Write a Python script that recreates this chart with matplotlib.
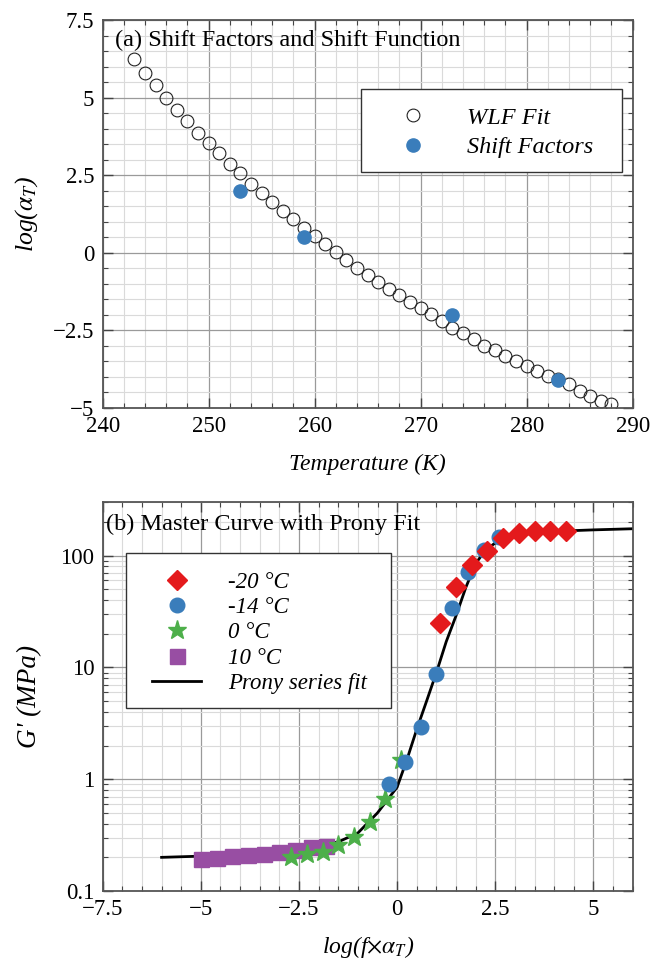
import numpy as np
import matplotlib
matplotlib.use('Agg')
import matplotlib.pyplot as plt
from matplotlib.patches import Rectangle
from matplotlib.ticker import MultipleLocator, LogLocator, FixedLocator, NullFormatter

plt.rcParams['font.family'] = ['Liberation Serif', 'DejaVu Serif']
plt.rcParams['mathtext.fontset'] = 'stix'

# (a) WLF fit and shift factors
wlf_T = list(range(243, 289))
wlf_log_aT = [6.23, 5.8, 5.4, 5.0, 4.6, 4.23, 3.87, 3.53, 3.2, 2.87, 2.56, 2.22, 1.92, 1.63,
              1.35, 1.07, 0.8, 0.53, 0.27, 0.01, -0.25, -0.5, -0.73, -0.95, -1.17, -1.38,
              -1.58, -1.78, -1.98, -2.2, -2.42, -2.6, -2.8, -3.0, -3.15, -3.33, -3.5,
              -3.66, -3.83, -3.97, -4.08, -4.25, -4.45, -4.62, -4.78, -4.87]
shift_T = [253, 259, 273, 283]
shift_log_aT = [2.0, 0.5, -2.0, -4.1]

# (b) master curve
m20_x = [1.1, 1.5, 1.9, 2.3, 2.7, 3.1, 3.5, 3.9, 4.3]
m20_G = [25, 52, 82, 110, 143, 161, 167, 167, 167]
m14_x = [-0.2, 0.2, 0.6, 1.0, 1.4, 1.8, 2.2, 2.6]
m14_G = [0.90, 1.43, 2.94, 8.7, 34, 72, 112, 148]
p0_x = [-2.7, -2.3, -1.9, -1.5, -1.1, -0.7, -0.3, 0.1]
p0_G = [0.20, 0.216, 0.224, 0.256, 0.305, 0.415, 0.67, 1.48]
p10_x = [-5.0, -4.6, -4.2, -3.8, -3.4, -3.0, -2.6, -2.2, -1.8]
p10_G = [0.195, 0.199, 0.204, 0.208, 0.216, 0.222, 0.232, 0.245, 0.255]
prony_x = [-6.0, -5.0, -4.0, -3.0, -2.0, -1.5, -1.0, -0.5, 0.0, 0.25, 0.5, 0.75, 1.0,
           1.25, 1.5, 1.75, 2.0, 2.25, 2.5, 3.0, 3.5, 4.0, 5.0, 6.0]
prony_G = [0.20, 0.205, 0.215, 0.23, 0.255, 0.275, 0.33, 0.50, 0.85, 1.5, 2.8, 5.0, 9.0,
           17, 29, 52, 85, 112, 130, 150, 160, 165, 170, 174]

blue = '#3a7dbb'
fig = plt.figure(figsize=(6.54, 9.61), dpi=100)
W, H = 654, 961


def style_axes(ax):
    ax.tick_params(which='both', direction='in', top=True, right=True, labelsize=16.5,
                   color='#444444', pad=6)
    ax.tick_params(which='major', length=7, width=1.0)
    ax.tick_params(which='minor', length=3.6, width=0.8)
    ax.grid(which='major', color='#9a9a9a', lw=0.9)
    ax.grid(which='minor', color='#dadada', lw=0.8)
    ax.set_axisbelow(True)
    for s in ax.spines.values():
        s.set_color('#555555')
        s.set_linewidth(1.3)


def legend_frame(ax, x0, y0, x1, y1):
    # white box behind the legend entries
    ax.add_patch(Rectangle((x0, y0), x1 - x0, y1 - y0, transform=ax.transAxes,
                           facecolor='white', edgecolor='#333333', lw=1.0, zorder=4.5))


# ---- (a) ----
ax1 = fig.add_axes([102.7 / W, 1 - 407.7 / H, 530 / W, 387.7 / H])
ax1.plot(wlf_T, wlf_log_aT, 'o', ms=9.2, mfc='none', mec='#222222', mew=0.8, label='WLF Fit')
ax1.plot(shift_T, shift_log_aT, 'o', ms=9.5, color=blue, mec=blue, label='Shift Factors')
ax1.set_xlim(240, 290)
ax1.set_ylim(-5, 7.5)
ax1.xaxis.set_major_locator(MultipleLocator(10))
ax1.xaxis.set_minor_locator(MultipleLocator(2))
ax1.yaxis.set_minor_locator(MultipleLocator(0.5))
ax1.set_yticks([-5, -2.5, 0, 2.5, 5, 7.5])
ax1.set_yticklabels(['\u22125', '\u22122.5', '0', '2.5', '5', '7.5'])
style_axes(ax1)
ax1.set_xlabel('Temperature (K)', fontsize=17, style='italic', va='top')
ax1.xaxis.set_label_coords(0.5, -0.118)
ax1.set_ylabel(r'log($\alpha_T$)', fontsize=18.5, style='italic')
ax1.yaxis.set_label_coords(-0.118, 0.5)
ax1.text(0.023, 0.975, '(a) Shift Factors and Shift Function', transform=ax1.transAxes,
         fontsize=17.5, va='top', ha='left')
legend_frame(ax1, 0.4874, 0.6082, 0.9798, 0.8222)
ax1.legend(loc='upper left', bbox_to_anchor=(0.5387, 0.776), borderaxespad=0, borderpad=0,
           prop={'style': 'italic', 'size': 17.5}, frameon=False, handletextpad=1.24,
           labelspacing=0.3, handlelength=2.0)

# ---- (b) ----
ax2 = fig.add_axes([102.7 / W, 1 - 891 / H, 530 / W, 388.7 / H])
ax2.set_yscale('log')
ax2.plot(prony_x, prony_G, '-', color='black', lw=2, zorder=2, label='Prony series fit')
ax2.plot(p10_x, p10_G, 's', ms=10.8, color='#984ea3', zorder=3, label='10 \u00b0C')
ax2.plot(p0_x, p0_G, '*', ms=14, color='#4daf4a', zorder=3, label='0 \u00b0C')
ax2.plot(m14_x, m14_G, 'o', ms=10.5, color=blue, zorder=3, label='-14 \u00b0C')
ax2.plot(m20_x, m20_G, 'D', ms=10, color='#e41a1c', zorder=3, label='-20 \u00b0C')
ax2.set_xlim(-7.5, 6)
ax2.set_ylim(0.1, 300)
ax2.xaxis.set_minor_locator(MultipleLocator(0.5))
ax2.yaxis.set_major_locator(FixedLocator([0.1, 1, 10, 100]))
ax2.yaxis.set_minor_locator(LogLocator(base=10, subs=np.arange(2, 10)))
ax2.yaxis.set_minor_formatter(NullFormatter())
ax2.set_yticklabels(['0.1', '1', '10', '100'])
ax2.set_xticks([-7.5, -5, -2.5, 0, 2.5, 5])
ax2.set_xticklabels(['\u22127.5', '\u22125', '\u22122.5', '0', '2.5', '5'])
style_axes(ax2)
ax2.set_xlabel(r'log(f$\times\alpha_T$)', fontsize=17, style='italic', va='top')
ax2.xaxis.set_label_coords(0.5, -0.11)
ax2.set_ylabel("G' (MPa)", fontsize=19.5, style='italic')
ax2.yaxis.set_label_coords(-0.115, 0.5)
ax2.text(0.006, 0.97, '(b) Master Curve with Prony Fit', transform=ax2.transAxes,
         fontsize=17.5, va='top', ha='left')
legend_frame(ax2, 0.044, 0.4712, 0.544, 0.8697)
handles, labels = ax2.get_legend_handles_labels()
order = [4, 3, 2, 1, 0]
ax2.legend([handles[i] for i in order], [labels[i] for i in order],
           loc='upper left', bbox_to_anchor=(0.0936, 0.822), borderaxespad=0, borderpad=0,
           prop={'style': 'italic', 'size': 16.5}, frameon=False, handletextpad=1.17,
           labelspacing=0.19, handlelength=2.13)

fig.savefig('out.png', dpi=100)
